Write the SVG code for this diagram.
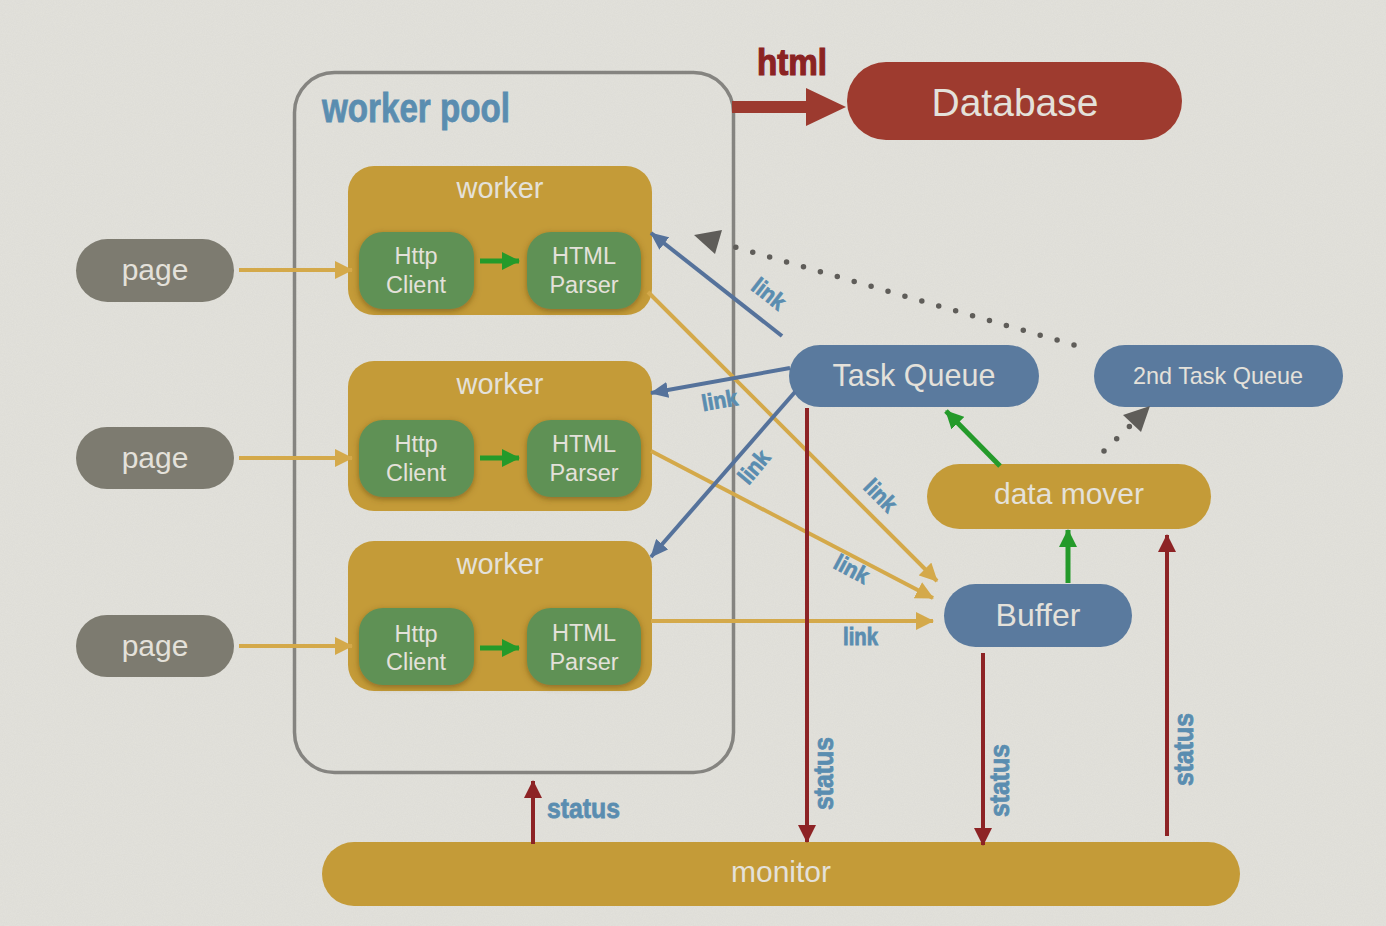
<svg xmlns="http://www.w3.org/2000/svg" width="1386" height="926" viewBox="0 0 1386 926">
<defs>
<style>
.lbl{font-family:"Liberation Sans",Arial,sans-serif;fill:#e4e1da;text-anchor:middle}
.cond{font-family:"Liberation Sans",Arial,sans-serif;font-weight:bold;fill:#5a8db0;stroke:#5a8db0;stroke-width:0.8}
.gold{fill:#c49b38}
.green{fill:#5f9155}
.blue{fill:#5a7a9e}
.grayn{fill:#7d7b70}
.lg{stroke:#d4a94a;stroke-width:4;fill:none}
.lb{stroke:#55729b;stroke-width:4;fill:none}
.lr{stroke:#8d2325;stroke-width:4;fill:none}
.lgr{stroke:#249a2a;stroke-width:5;fill:none}
.dot{stroke:#5f5d59;stroke-width:5.5;stroke-linecap:round;stroke-dasharray:0 17.6;fill:none}
</style>
<marker id="ag" markerUnits="userSpaceOnUse" markerWidth="18" markerHeight="18" refX="17" refY="9" orient="auto"><path d="M0,0 L18,9 L0,18 z" fill="#d4a94a"/></marker>
<marker id="ab" markerUnits="userSpaceOnUse" markerWidth="18" markerHeight="16" refX="17" refY="8" orient="auto"><path d="M0,0 L18,8 L0,16 z" fill="#55729b"/></marker>
<marker id="ar" markerUnits="userSpaceOnUse" markerWidth="18" markerHeight="18" refX="17" refY="9" orient="auto"><path d="M0,0 L18,9 L0,18 z" fill="#8d2325"/></marker>
<marker id="agr" markerUnits="userSpaceOnUse" markerWidth="18" markerHeight="18" refX="17" refY="9" orient="auto"><path d="M0,0 L18,9 L0,18 z" fill="#249a2a"/></marker>
<filter id="sh" x="-20%" y="-20%" width="140%" height="150%"><feDropShadow dx="0" dy="2" stdDeviation="3" flood-color="#5a4010" flood-opacity="0.55"/></filter>
<filter id="noise" x="0" y="0" width="100%" height="100%"><feTurbulence type="fractalNoise" baseFrequency="0.9" numOctaves="2" seed="3"/><feColorMatrix type="matrix" values="0 0 0 0 0.4  0 0 0 0 0.4  0 0 0 0 0.38  0 0 0 0.18 0"/></filter>
</defs>
<rect x="0" y="0" width="1386" height="926" fill="#e3e2dc"/>
<rect x="0" y="0" width="1386" height="926" filter="url(#noise)" opacity="0.6"/>

<g id="worker-pool">
<rect x="294.5" y="72.5" width="439" height="700" rx="40" fill="none" stroke="#858480" stroke-width="3.5"/>
<text class="cond" x="322" y="122" font-size="40" stroke-width="1.2" textLength="188" lengthAdjust="spacingAndGlyphs">worker pool</text>
</g>

<g id="worker1">
<rect class="gold" x="348" y="166" width="304" height="149" rx="26"/>
<text class="lbl" x="500" y="198" font-size="29">worker</text>
<rect class="green" x="359" y="232" width="115" height="77" rx="24" filter="url(#sh)"/>
<text class="lbl" x="416" y="264" font-size="23.5">Http</text>
<text class="lbl" x="416" y="293" font-size="23.5">Client</text>
<rect class="green" x="527" y="232" width="114" height="77" rx="24" filter="url(#sh)"/>
<text class="lbl" x="584" y="264" font-size="23.5">HTML</text>
<text class="lbl" x="584" y="293" font-size="23.5">Parser</text>
</g>
<g id="worker2">
<rect class="gold" x="348" y="361" width="304" height="150" rx="26"/>
<text class="lbl" x="500" y="394" font-size="29">worker</text>
<rect class="green" x="359" y="420" width="115" height="77" rx="24" filter="url(#sh)"/>
<text class="lbl" x="416" y="452" font-size="23.5">Http</text>
<text class="lbl" x="416" y="481" font-size="23.5">Client</text>
<rect class="green" x="527" y="420" width="114" height="77" rx="24" filter="url(#sh)"/>
<text class="lbl" x="584" y="452" font-size="23.5">HTML</text>
<text class="lbl" x="584" y="481" font-size="23.5">Parser</text>
</g>
<g id="worker3">
<rect class="gold" x="348" y="541" width="304" height="150" rx="26"/>
<text class="lbl" x="500" y="574" font-size="29">worker</text>
<rect class="green" x="359" y="608" width="115" height="77" rx="24" filter="url(#sh)"/>
<text class="lbl" x="416" y="642" font-size="23.5">Http</text>
<text class="lbl" x="416" y="670" font-size="23.5">Client</text>
<rect class="green" x="527" y="608" width="114" height="77" rx="24" filter="url(#sh)"/>
<text class="lbl" x="584" y="641" font-size="23.5">HTML</text>
<text class="lbl" x="584" y="670" font-size="23.5">Parser</text>
</g>

<g id="page1"><rect class="grayn" x="76" y="239" width="158" height="63" rx="31.5"/><text class="lbl" x="155" y="280" font-size="30">page</text></g>
<g id="page2"><rect class="grayn" x="76" y="427" width="158" height="62" rx="31"/><text class="lbl" x="155" y="468" font-size="30">page</text></g>
<g id="page3"><rect class="grayn" x="76" y="615" width="158" height="62" rx="31"/><text class="lbl" x="155" y="656" font-size="30">page</text></g>

<g id="database"><rect x="847" y="62" width="335" height="78" rx="39" fill="#9e3b2f"/><text class="lbl" x="1015" y="116" font-size="39">Database</text></g>
<g id="task-queue"><rect class="blue" x="789" y="345" width="250" height="62" rx="31"/><text class="lbl" x="914" y="386" font-size="30.5">Task Queue</text></g>
<g id="second-task-queue"><rect class="blue" x="1094" y="345" width="249" height="62" rx="31"/><text class="lbl" x="1218" y="384" font-size="23.4">2nd Task Queue</text></g>
<g id="data-mover"><rect class="gold" x="927" y="464" width="284" height="65" rx="32.5"/><text class="lbl" x="1069" y="504" font-size="30">data mover</text></g>
<g id="buffer"><rect class="blue" x="944" y="584" width="188" height="63" rx="31.5"/><text class="lbl" x="1038" y="626" font-size="32">Buffer</text></g>
<g id="monitor"><rect class="gold" x="322" y="842" width="918" height="64" rx="32"/><text class="lbl" x="781" y="882" font-size="30">monitor</text></g>

<g id="connectors">
<line class="lg" x1="239" y1="270" x2="352" y2="270" marker-end="url(#ag)"/>
<line class="lg" x1="239" y1="458" x2="352" y2="458" marker-end="url(#ag)"/>
<line class="lg" x1="239" y1="646" x2="352" y2="646" marker-end="url(#ag)"/>
<line class="lgr" x1="480" y1="261" x2="519" y2="261" marker-end="url(#agr)"/>
<line class="lgr" x1="480" y1="458" x2="519" y2="458" marker-end="url(#agr)"/>
<line class="lgr" x1="480" y1="648" x2="519" y2="648" marker-end="url(#agr)"/>
<polygon points="732,101 806,101 806,88 846,107 806,126 806,113 732,113" fill="#9c3a2f"/>
<text x="757" y="75" font-family="Liberation Sans,Arial,sans-serif" font-weight="bold" font-size="37" fill="#8b2323" stroke="#8b2323" stroke-width="1.2" textLength="70" lengthAdjust="spacingAndGlyphs">html</text>

<line class="lg" x1="648" y1="292" x2="937" y2="581" marker-end="url(#ag)"/>
<line class="lg" x1="651" y1="451" x2="933" y2="598" marker-end="url(#ag)"/>
<line class="lg" x1="651" y1="621" x2="933" y2="621" marker-end="url(#ag)"/>
<line class="lb" x1="782" y1="336" x2="651" y2="233" marker-end="url(#ab)"/>
<line class="lb" x1="790" y1="368" x2="651" y2="393" marker-end="url(#ab)"/>
<line class="lb" x1="795" y1="392" x2="651" y2="557" marker-end="url(#ab)"/>

<line class="dot" x1="1074" y1="345" x2="728" y2="245"/>
<polygon points="694,235 722,230 715,254" fill="#5f5d59"/>
<line class="dot" x1="1104" y1="451" x2="1130" y2="426"/>
<polygon points="1150,406 1123,415 1141,432" fill="#5f5d59"/>

<line class="lgr" x1="1000" y1="466" x2="946" y2="411" marker-end="url(#agr)"/>
<line class="lgr" x1="1068" y1="583" x2="1068" y2="530" marker-end="url(#agr)"/>

<line class="lr" x1="807" y1="408" x2="807" y2="842" marker-end="url(#ar)"/>
<line class="lr" x1="983" y1="653" x2="983" y2="845" marker-end="url(#ar)"/>
<line class="lr" x1="1167" y1="836" x2="1167" y2="535" marker-end="url(#ar)"/>
<line class="lr" x1="533" y1="844" x2="533" y2="781" marker-end="url(#ar)"/>

<text class="cond" x="547" y="818" font-size="28" textLength="73" lengthAdjust="spacingAndGlyphs">status</text>
<text class="cond" transform="translate(833,810) rotate(-90)" font-size="28" textLength="73" lengthAdjust="spacingAndGlyphs">status</text>
<text class="cond" transform="translate(1009,817) rotate(-90)" font-size="28" textLength="73" lengthAdjust="spacingAndGlyphs">status</text>
<text class="cond" transform="translate(1193,786) rotate(-90)" font-size="28" textLength="73" lengthAdjust="spacingAndGlyphs">status</text>

<text class="cond" text-anchor="middle" transform="translate(764,300) rotate(38)" font-size="23" textLength="36" lengthAdjust="spacingAndGlyphs">link</text>
<text class="cond" text-anchor="middle" transform="translate(721,408) rotate(-10)" font-size="23" textLength="36" lengthAdjust="spacingAndGlyphs">link</text>
<text class="cond" text-anchor="middle" transform="translate(760,472) rotate(-50)" font-size="23" textLength="36" lengthAdjust="spacingAndGlyphs">link</text>
<text class="cond" text-anchor="middle" transform="translate(875,501) rotate(45)" font-size="23" textLength="36" lengthAdjust="spacingAndGlyphs">link</text>
<text class="cond" text-anchor="middle" transform="translate(848,576) rotate(28)" font-size="23" textLength="36" lengthAdjust="spacingAndGlyphs">link</text>
<text class="cond" x="843" y="645" font-size="23" textLength="35" lengthAdjust="spacingAndGlyphs">link</text>
</g>
</svg>
